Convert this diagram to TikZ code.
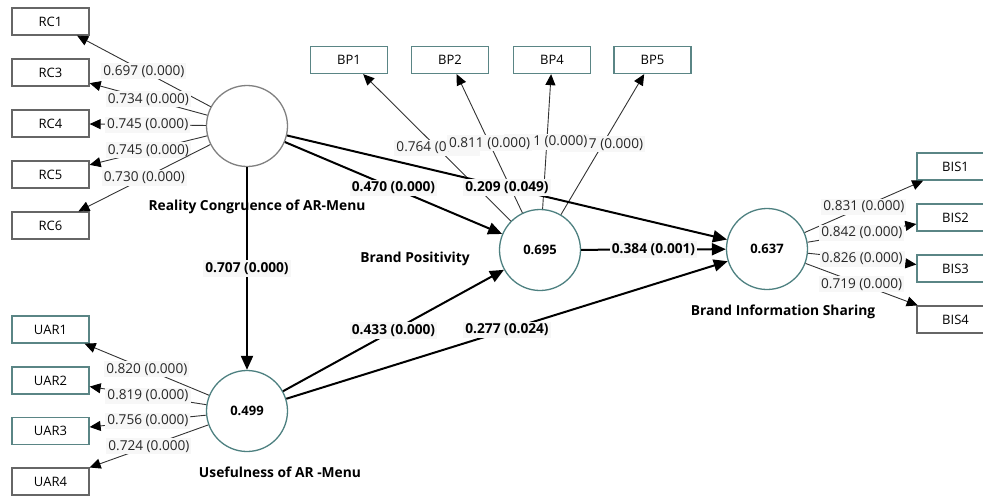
\documentclass[tikz,border=0pt]{standalone}
\usepackage{fontspec}
\setmainfont{Open Sans}
\usetikzlibrary{arrows.meta}
\definecolor{circteal}{HTML}{4D8080}
\definecolor{boxteal}{HTML}{5A8585}
\definecolor{boxgray}{HTML}{666666}
\definecolor{circgray}{HTML}{808080}
\definecolor{linegray}{HTML}{333333}
\definecolor{lblbg}{HTML}{F7F7F7}
\begin{document}
\begin{tikzpicture}[x=1pt,y=-1pt,
  ind/.style={draw=boxgray, line width=1.3pt, fill=white, minimum width=77pt, minimum height=27pt, inner sep=0pt, font=\fontsize{13}{15}\selectfont},
  indt/.style={ind, draw=boxteal},
  lv/.style={circle, draw=circteal, line width=1.3pt, fill=white, minimum size=81pt, inner sep=0pt, font=\bfseries\fontsize{13}{15}\selectfont},
  load/.style={draw=linegray, line width=0.9pt, -{Triangle[length=11pt,width=10pt,color=black]}},
  struct/.style={draw=black, line width=2pt, -{Triangle[length=14pt,width=12pt]}},
  lbl/.style={fill=lblbg, inner sep=2pt, font=\fontsize{13.6}{16}\selectfont, text=black!85},
  plbl/.style={lbl, text=black, font=\bfseries\fontsize{13.7}{16}\selectfont},
  ttl/.style={font=\bfseries\fontsize{13.8}{16}\selectfont}]
\useasboundingbox (0,0) rectangle (983,496);
% indicators
\node[ind] (RC1) at (50.5,21.5) {RC1};
\node[ind] (RC3) at (50.5,72.5) {RC3};
\node[ind] (RC4) at (50.5,123.5) {RC4};
\node[ind] (RC5) at (50.5,174.5) {RC5};
\node[ind] (RC6) at (50.5,225.5) {RC6};
\node[indt] (UAR1) at (50.5,329.5) {UAR1};
\node[indt] (UAR2) at (50.5,380.5) {UAR2};
\node[indt] (UAR3) at (50.5,431) {UAR3};
\node[ind] (UAR4) at (50.5,481.5) {UAR4};
\node[indt] (BP1) at (349,60) {BP1};
\node[indt] (BP2) at (450,60) {BP2};
\node[indt] (BP4) at (552,60) {BP4};
\node[indt] (BP5) at (652.5,60) {BP5};
\node[indt] (BIS1) at (955.5,166.5) {BIS1};
\node[indt] (BIS2) at (955.5,217.5) {BIS2};
\node[indt] (BIS3) at (955.5,268.5) {BIS3};
\node[ind] (BIS4) at (955.5,319.5) {BIS4};
% latent variables
\node[lv, draw=circgray] (RC) at (247,126) {};
\node[lv] (BP) at (540,250) {0.695};
\node[lv] (BIS) at (767,249) {0.637};
\node[lv] (UAR) at (247,411) {0.499};
% titles
\node[ttl] (tRC) at (257,207) {Reality Congruence of AR-Menu};
\node[ttl] (tBP) at (415,259) {Brand Positivity};
\node[ttl] (tBIS) at (783,312) {Brand Information Sharing};
\node[ttl] (tUAR) at (280,472) {Usefulness of AR -Menu};
% loadings RC
\draw[load] (RC) -- node[lbl] (l1) {0.697 (0.000)} (RC1);
\draw[load] (RC) -- node[lbl] (l2) {0.734 (0.000)} (RC3);
\draw[load] (RC) -- node[lbl] (l3) {0.745 (0.000)} (RC4);
\draw[load] (RC) -- node[lbl] (l4) {0.745 (0.000)} (RC5);
\draw[load] (RC) -- node[lbl] (l5) {0.730 (0.000)} (RC6);
% loadings UAR
\draw[load] (UAR) -- node[lbl] (u1) {0.820 (0.000)} (UAR1);
\draw[load] (UAR) -- node[lbl] (u2) {0.819 (0.000)} (UAR2);
\draw[load] (UAR) -- node[lbl] (u3) {0.756 (0.000)} (UAR3);
\draw[load] (UAR) -- node[lbl] (u4) {0.724 (0.000)} (UAR4);
% loadings BIS
\draw[load] (BIS) -- node[lbl] (b1) {0.831 (0.000)} (BIS1);
\draw[load] (BIS) -- node[lbl] (b2) {0.842 (0.000)} (BIS2);
\draw[load] (BIS) -- node[lbl] (b3) {0.826 (0.000)} (BIS3);
\draw[load] (BIS) -- node[lbl] (b4) {0.719 (0.000)} (BIS4);
% loadings BP (overlapping labels)
\draw[load] (BP) -- node[lbl] (p1) {0.764 (0.\phantom{000)}} (BP1);
\draw[load] (BP) -- node[lbl] (p5) {\phantom{0.00}7 (0.000)} (BP5);
\draw[load] (BP) -- node[lbl] (p4) {\phantom{0.00}1 (0.000)} (BP4);
\draw[load] (BP) -- node[lbl] (p2) {0.811 (0.000)} (BP2);
% structural paths
\draw[struct] (RC) -- node[plbl] (s1) {0.707 (0.000)} (UAR);
\draw[struct] (RC) -- node[plbl] (s2) {0.470 (0.000)} (BP);
\draw[struct] (RC) -- node[plbl] (s3) {0.209 (0.049)} (BIS);
\draw[struct] (UAR) -- node[plbl] (s4) {0.433 (0.000)} (BP);
\draw[struct] (UAR) -- node[plbl] (s5) {0.277 (0.024)} (BIS);
\draw[struct] (BP) -- node[plbl] (s6) {0.384 (0.001)} (BIS);
\end{tikzpicture}
\end{document}
